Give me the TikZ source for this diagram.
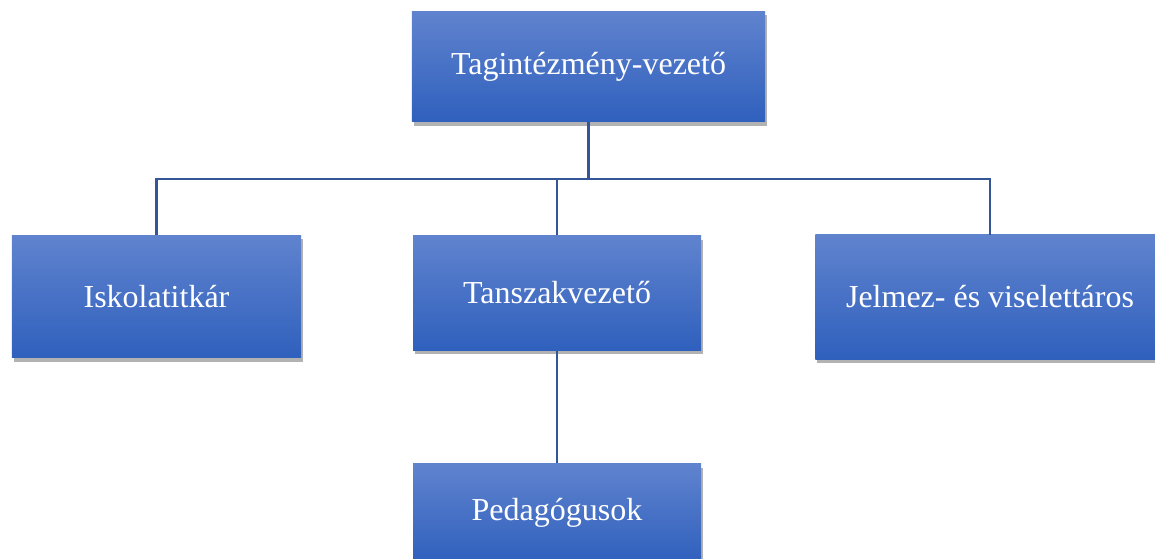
\documentclass[tikz,border=0pt]{standalone}
\usepackage{fontspec}
\setmainfont{Liberation Serif}
\usetikzlibrary{shadows}
\definecolor{boxtop}{RGB}{96,131,206}
\definecolor{boxbot}{RGB}{47,96,189}
\definecolor{linkblue}{RGB}{52,86,150}
\tikzset{
  box/.style={rectangle, top color=boxtop, bottom color=boxbot, text=white,
    font=\fontsize{24}{28}\selectfont, inner sep=0pt,
    drop shadow={shadow xshift=1.5pt, shadow yshift=-3pt, opacity=0.5, fill=black!60}},
  link/.style={draw=linkblue, line width=2.2pt}
}
\begin{document}
\begin{tikzpicture}[x=0.75pt, y=-0.75pt]
      \useasboundingbox (0,0) rectangle (1155,559);
      \clip (0,0) rectangle (1155,559);
      \draw
        (588.5,66.5) node[box, minimum width=265pt, minimum height=83pt] (tag){Tagintézmény-vezető}
        (156.5,296.5) node[box, minimum width=217pt, minimum height=92pt] (isk){Iskolatitkár}
        (557,293) node[box, minimum width=216pt, minimum height=86pt] (tsz){Tanszakvezető}
        (990,297) node[box, minimum width=262pt, minimum height=93pt] (jel){Jelmez- és viselettáros}
        (557,513) node[box, minimum width=216pt, minimum height=74pt] (ped){Pedagógusok};
      \coordinate (bus) at (588.5,179);
      \begin{scope}[link]
        \draw (tag.south) to (bus);
        \draw (bus) -| (isk.north);
        \draw (bus) -| (tsz.north);
        \draw (bus) -| (jel.north);
        \draw (tsz.south) to (ped.north);
      \end{scope}
    \end{tikzpicture}
\end{document}
